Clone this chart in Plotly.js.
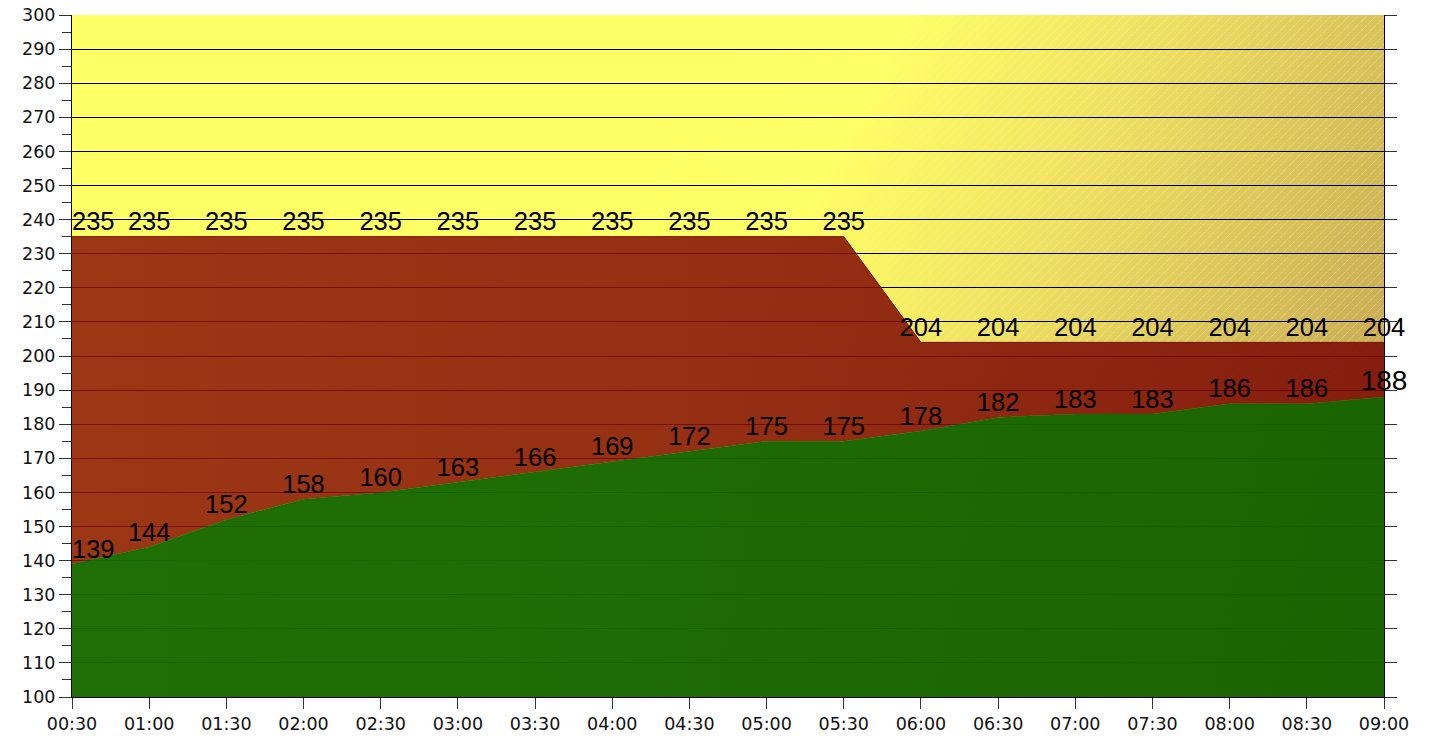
<!DOCTYPE html>
<html>
<head>
<meta charset="utf-8">
<script src="https://cdn.plot.ly/plotly-3.0.1.min.js"></script>
<style>
  html, body { margin: 0; padding: 0; background: #ffffff; }
  #chart { width: 1430px; height: 743px; }
</style>
</head>
<body>
<div id="chart"></div>
<script>
// ---- data ----
const times = ["00:30","01:00","01:30","02:00","02:30","03:00","03:30","04:00","04:30",
               "05:00","05:30","06:00","06:30","07:00","07:30","08:00","08:30","09:00"];
const limitValues = [235,235,235,235,235,235,235,235,235,235,235,204,204,204,204,204,204,204];
const actualValues = [139,144,152,158,160,163,166,169,172,175,175,178,182,183,183,186,186,188];
const yTickStart = 100, yTickEnd = 300, yTickStep = 10;

// ---- background (plot area gradient + faint hatching) ----
const W = 1312, H = 682;
const svg =
 '<svg xmlns="http://www.w3.org/2000/svg" width="' + W + '" height="' + H + '" viewBox="0 0 ' + W + ' ' + H + '" preserveAspectRatio="none">' +
 '<defs>' +
 '<linearGradient id="g" gradientUnits="userSpaceOnUse" x1="0" y1="0" x2="' + W + '" y2="' + H + '">' +
 '<stop offset="0" stop-color="#FFFF66"/>' +
 '<stop offset="0.5" stop-color="#FFFF66"/>' +
 '<stop offset="0.66" stop-color="#EEE062"/>' +
 '<stop offset="0.79" stop-color="#D9C35A"/>' +
 '<stop offset="0.9" stop-color="#C9AA55"/>' +
 '<stop offset="1" stop-color="#BA964E"/>' +
 '</linearGradient>' +
 '<linearGradient id="m" gradientUnits="userSpaceOnUse" x1="0" y1="0" x2="' + W + '" y2="0">' +
 '<stop offset="0.4" stop-color="#000"/>' +
 '<stop offset="0.8" stop-color="#fff"/>' +
 '</linearGradient>' +
 '<mask id="mk"><rect width="' + W + '" height="' + H + '" fill="url(#m)"/></mask>' +
 '<pattern id="p" patternUnits="userSpaceOnUse" width="9" height="9">' +
 '<path d="M-1,10 L10,-1" stroke="#ffffff" stroke-opacity="0.45" stroke-width="1" stroke-dasharray="1,1"/>' +
 '</pattern>' +
 '</defs>' +
 '<rect width="' + W + '" height="' + H + '" fill="url(#g)"/>' +
 '<rect width="' + W + '" height="' + H + '" fill="url(#p)" mask="url(#mk)"/>' +
 '</svg>';
const bgSrc = 'data:image/svg+xml;base64,' + btoa(svg);

const labelFamily = "Liberation Sans, Arial, sans-serif";

function positions(n) {
  const a = [];
  for (let i = 0; i < n; i++) a.push(i === 0 ? "top right" : "top center");
  return a;
}
function sizes(n, last) {
  const a = [];
  for (let i = 0; i < n; i++) a.push(i === n - 1 && last ? last : 25.5);
  return a;
}

const traceActual = {
  type: "scatter",
  x: times,
  y: actualValues,
  mode: "lines+text",
  text: actualValues.map(String),
  textposition: positions(actualValues.length),
  textfont: {family: labelFamily, size: sizes(actualValues.length, 28), color: "#000000"},
  line: {color: "rgba(24,104,2,1)", width: 0.5},
  fill: "tozeroy",
  fillgradient: {type: "horizontal", colorscale: [[0, "rgba(22,106,2,0.965)"], [1, "rgba(22,98,0,0.97)"]]},
  cliponaxis: false,
  hoverinfo: "x+y",
  showlegend: false
};

const traceLimit = {
  type: "scatter",
  x: times,
  y: limitValues,
  mode: "lines+text",
  text: limitValues.map(String),
  textposition: positions(limitValues.length),
  textfont: {family: labelFamily, size: sizes(limitValues.length, 0), color: "#000000"},
  line: {color: "#7d1206", width: 1},
  fill: "tonexty",
  fillgradient: {type: "horizontal", colorscale: [[0, "rgba(140,22,8,0.86)"], [1, "rgba(124,10,4,0.88)"]]},
  cliponaxis: false,
  hoverinfo: "x+y",
  showlegend: false
};

// carries the right-hand mirrored tick axis (draws nothing itself)
const traceRightAxis = {
  type: "scatter",
  x: times,
  y: limitValues,
  yaxis: "y2",
  mode: "none",
  hoverinfo: "skip",
  showlegend: false
};

const tickFont = {family: "DejaVu Sans, Verdana, sans-serif", size: 17.5, color: "#111111"};

const layout = {
  width: 1430,
  height: 743,
  margin: {l: 72, r: 46, t: 15, b: 46, pad: 0},
  paper_bgcolor: "#ffffff",
  plot_bgcolor: "rgba(0,0,0,0)",
  showlegend: false,
  xaxis: {
    type: "category",
    range: [0, times.length - 1],
    showgrid: false,
    zeroline: false,
    showline: true,
    linecolor: "#000000",
    linewidth: 1,
    ticks: "outside",
    ticklen: 11,
    tickcolor: "#333333",
    tickfont: tickFont,
    fixedrange: true
  },
  yaxis: {
    range: [yTickStart, yTickEnd],
    dtick: yTickStep,
    tick0: yTickStart,
    showgrid: true,
    gridcolor: "#000000",
    gridwidth: 1,
    zeroline: false,
    showline: true,
    linecolor: "#000000",
    linewidth: 1,
    ticks: "outside",
    ticklen: 12,
    tickcolor: "#333333",
    tickfont: tickFont,
    minor: {dtick: 5, ticks: "outside", ticklen: 9, tickcolor: "#333333", showgrid: false},
    fixedrange: true
  },
  yaxis2: {
    overlaying: "y",
    side: "right",
    anchor: "x",
    range: [yTickStart, yTickEnd],
    dtick: yTickStep,
    tick0: yTickStart,
    showgrid: false,
    zeroline: false,
    showline: true,
    linecolor: "#000000",
    linewidth: 1,
    ticks: "outside",
    ticklen: 12,
    tickcolor: "#333333",
    showticklabels: false,
    fixedrange: true
  },
  images: [{
    source: bgSrc,
    xref: "paper", yref: "paper",
    x: 0, y: 1, sizex: 1, sizey: 1,
    xanchor: "left", yanchor: "top",
    sizing: "stretch",
    layer: "below"
  }]
};

Plotly.newPlot("chart", [traceActual, traceLimit, traceRightAxis], layout, {displayModeBar: false, responsive: false});
</script>
</body>
</html>
